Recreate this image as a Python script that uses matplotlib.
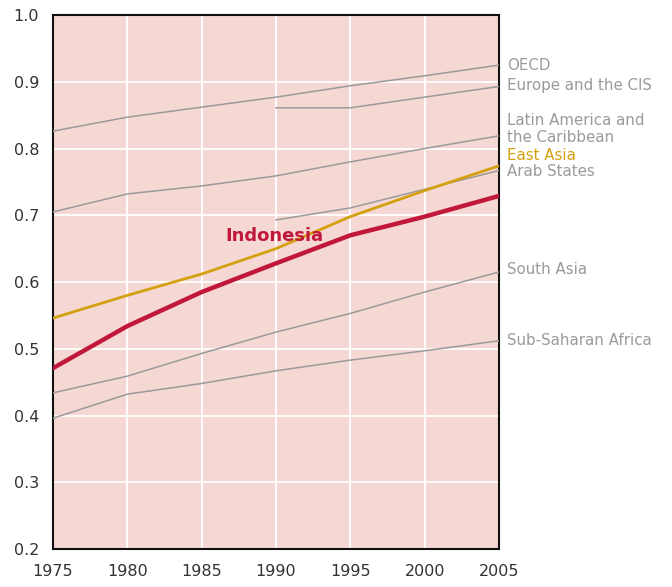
import matplotlib.pyplot as plt
import matplotlib.transforms as mtransforms

years = [1975, 1980, 1985, 1990, 1995, 2000, 2005]
years_late = [1990, 1995, 2000, 2005]

oecd = [0.826, 0.847, 0.862, 0.877, 0.894, 0.909, 0.925]
europe_cis = [0.861, 0.861, 0.877, 0.893]
latin_america = [0.705, 0.732, 0.744, 0.759, 0.780, 0.800, 0.819]
arab_states = [0.693, 0.711, 0.739, 0.767]
east_asia = [0.546, 0.580, 0.612, 0.650, 0.698, 0.737, 0.774]
indonesia = [0.471, 0.534, 0.585, 0.628, 0.670, 0.698, 0.729]
south_asia = [0.434, 0.459, 0.493, 0.525, 0.553, 0.585, 0.615]
sub_saharan = [0.396, 0.432, 0.448, 0.467, 0.483, 0.497, 0.512]

gray = '#9a9a9a'
gold = '#d4a00e'
red = '#c0173a'

fig = plt.figure(figsize=(6.72, 5.87), dpi=100)
ax = fig.add_axes([0.0789, 0.0647, 0.6637, 0.9097])
ax.set_facecolor('#f5d8d3')

for vals in [oecd, latin_america, south_asia, sub_saharan]:
    ax.plot(years, vals, color=gray, lw=1.1, zorder=3)
for vals in [europe_cis, arab_states]:
    ax.plot(years_late, vals, color=gray, lw=1.1, zorder=3)
ax.plot(years, east_asia, color=gold, lw=2.0, zorder=4)
ax.plot(years, indonesia, color=red, lw=3.2, zorder=5)

ax.set_xlim(1975, 2005)
ax.set_ylim(0.2, 1.0)
ax.set_xticks(years)
ax.set_yticks([0.2, 0.3, 0.4, 0.5, 0.6, 0.7, 0.8, 0.9, 1.0])
ax.set_yticklabels(['0.2', '0.3', '0.4', '0.5', '0.6', '0.7', '0.8', '0.9', '1.0'])
ax.tick_params(length=0, labelsize=11.5, colors='#333333', pad=10)
ax.tick_params(axis='x', pad=11)
ax.grid(color='white', lw=1.3, zorder=1)
for s in ax.spines.values():
    s.set_color('#111111')
    s.set_linewidth(1.5)

trans = mtransforms.blended_transform_factory(ax.transAxes, ax.transData)
labels = [
    ('OECD', 0.925, gray),
    ('Europe and the CIS', 0.894, gray),
    ('Latin America and\nthe Caribbean', 0.829, gray),
    ('East Asia', 0.789, gold),
    ('Arab States', 0.765, gray),
    ('South Asia', 0.619, gray),
    ('Sub-Saharan Africa', 0.513, gray),
]
for txt, y, c in labels:
    ax.text(1.018, y, txt, transform=trans, color=c, fontsize=10.8,
            va='center', ha='left', linespacing=1.2, clip_on=False)

ax.text(1989.9, 0.669, 'Indonesia', color=red, fontsize=13, fontweight='bold',
        ha='center', va='center', zorder=6)

fig.savefig('out.png', dpi=100)
